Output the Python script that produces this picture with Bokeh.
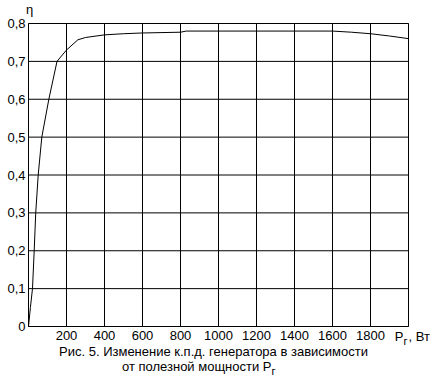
from bokeh.plotting import figure
from bokeh.models import Range1d
from bokeh.core.properties import value
from bokeh.embed import file_html
from bokeh.resources import INLINE

# Data
power = [0, 10, 21, 30, 38, 51, 70, 107, 150, 200, 260, 300, 400, 500, 600, 800, 830,
         1000, 1200, 1400, 1600, 1700, 1800, 1900, 2000]
efficiency = [0, 0.05, 0.10, 0.20, 0.30, 0.40, 0.50, 0.60, 0.70, 0.73, 0.757, 0.763, 0.770, 0.773,
              0.775, 0.777, 0.780, 0.780, 0.780, 0.780, 0.780, 0.777, 0.773, 0.767, 0.760]
x_ticks = [200, 400, 600, 800, 1000, 1200, 1400, 1600, 1800]
x_labels = ["200", "400", "600", "800", "1000", "1200", "1400", "1600", "1800"]
y_ticks = [0, 0.1, 0.2, 0.3, 0.4, 0.5, 0.6, 0.7, 0.8]
y_labels = ["0", "0,1", "0,2", "0,3", "0,4", "0,5", "0,6", "0,7", "0,8"]
x_min, x_max = 0, 2000
y_min, y_max = 0, 0.8
caption1 = "Рис. 5. Изменение к.п.д. генератора в зависимости"
caption2 = "от полезной мощности P"

FONT = "Liberation Sans"
FS = "13px"
SUB = "11px"

W, H = 435, 380
# frame location in canvas pixels
FL, FR, FT, FB = 28, 408, 23, 326
sx = (x_max - x_min) / (FR - FL)
sy = (y_max - y_min) / (FB - FT)

def dx(px):
    return x_min + (px - FL) * sx

def dy(py):
    return y_min + (FB - py) * sy

p = figure(width=W, height=H, x_range=Range1d(dx(0), dx(W)), y_range=Range1d(dy(H), dy(0)),
           toolbar_location=None, output_backend="svg")
p.min_border = 0
p.axis.visible = False
p.grid.visible = False
p.outline_line_color = None
p.background_fill_color = "white"
p.border_fill_color = "white"

# grid lines
p.segment(x0=x_ticks, y0=[y_min] * len(x_ticks), x1=x_ticks, y1=[y_max] * len(x_ticks),
          line_color="black", line_width=1)
p.segment(x0=[x_min] * len(y_ticks), y0=y_ticks, x1=[x_max] * len(y_ticks), y1=y_ticks,
          line_color="black", line_width=1)
# frame
p.quad(left=[x_min], right=[x_max], bottom=[y_min], top=[y_max],
       fill_color=None, line_color="black", line_width=1)

p.line(power, efficiency, line_color="black", line_width=1)

txt = dict(text_font=value(FONT), text_font_size=FS, text_color="black")

p.text(x=[x_min] * len(y_ticks), y=y_ticks, text=y_labels, x_offset=-3,
       text_align="right", text_baseline="middle", **txt)
p.text(x=x_ticks, y=[y_min] * len(x_ticks), text=x_labels, y_offset=4,
       text_align="center", text_baseline="top", **txt)

def lab(px, py, t, align="left", baseline="middle", size=FS):
    p.text(x=[dx(px)], y=[dy(py)], text=[t], text_align=align, text_baseline=baseline,
           text_font=value(FONT), text_font_size=size, text_color="black")

# axis labels
lab(29, 9, "η", align="center")
lab(403, 336, "P", align="right")
lab(403, 340, "г", align="left", size=SUB)
lab(408, 336, ", Вт", align="left")

# caption
lab(213, 351, caption1, align="center")
lab(271, 366, caption2, align="right")
lab(271, 370, "г", align="left", size=SUB)

open("out.html", "w").write(file_html(p, INLINE))
